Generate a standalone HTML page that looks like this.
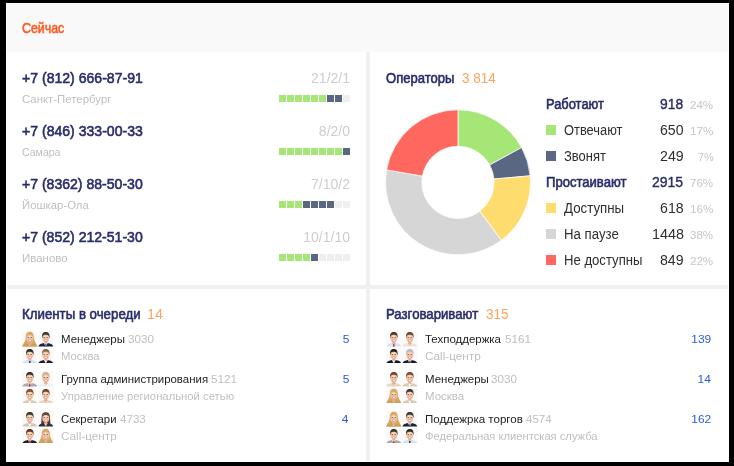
<!DOCTYPE html>
<html lang="ru">
<head>
<meta charset="utf-8">
<title>Сейчас</title>
<style>
*{box-sizing:border-box;margin:0;padding:0}
html,body{width:734px;height:466px;overflow:hidden;background:#000}
body{font-family:"Liberation Sans",sans-serif;position:relative}
#wrap{position:absolute;left:6px;top:3px;width:723px;height:459px;background:#f0f0f0;overflow:hidden}
.hdr{position:absolute;left:0;top:0;width:723px;height:49px;background:#f9f9f9}
#wrap:after{content:"";box-sizing:border-box;position:absolute;left:0;top:0;width:723px;height:459px;border:1px solid #fff;pointer-events:none}
.p{position:absolute;background:#fff}
#tl{left:0;top:49px;width:360px;height:233px}
#tr{left:364px;top:49px;width:359px;height:233px}
#bl{left:0;top:286px;width:360px;height:173px}
#br{left:364px;top:286px;width:359px;height:173px}
.t{position:absolute;white-space:nowrap;line-height:1;transform-origin:0 0}
.bar{position:absolute;height:7px;width:72px;display:flex}
.bar i{display:block;flex:none;width:7px;height:7px;margin-right:1px;background:#efefef}
.bar i.g{background:#a6e677}
.bar i.b{background:#5a6783}
.sq{position:absolute;width:10px;height:10px}
.donut{position:absolute;left:0;top:0}
.av{position:absolute}
.grp{position:absolute;left:0;top:0;width:723px;height:459px}
</style>
</head>
<body>
<div id="wrap">
<header class="hdr"></header>
<div class="p" id="tl"></div>
<div class="p" id="tr"></div>
<div class="p" id="bl"></div>
<div class="p" id="br"></div>
<header class="grp">
<span class="t" style="font-size:14.5px;color:#ff5b1f;-webkit-text-stroke:0.6px #ff5b1f;left:16px;top:18px;transform:scaleX(0.854)">Сейчас</span>
</header>
<section class="grp">
<span class="t" style="font-size:14.6px;color:#2a2d6b;-webkit-text-stroke:0.6px #2a2d6b;left:16px;top:68px;transform:scaleX(0.964)">+7 (812) 666-87-91</span>
<span class="t" style="font-size:11px;color:#bfbfbf;left:16px;top:91px;transform:scaleX(1.036)">Санкт-Петербург</span>
<span class="t" style="font-size:14px;color:#cdcdcd;right:379px;top:68px">21/2/1</span>
<span class="t" style="font-size:14.6px;color:#2a2d6b;-webkit-text-stroke:0.6px #2a2d6b;left:16px;top:121px;transform:scaleX(0.964)">+7 (846) 333-00-33</span>
<span class="t" style="font-size:11px;color:#bfbfbf;left:16px;top:144px;transform:scaleX(0.96)">Самара</span>
<span class="t" style="font-size:14px;color:#cdcdcd;right:379px;top:121px">8/2/0</span>
<span class="t" style="font-size:14.6px;color:#2a2d6b;-webkit-text-stroke:0.6px #2a2d6b;left:16px;top:174px;transform:scaleX(0.963)">+7 (8362) 88-50-30</span>
<span class="t" style="font-size:11px;color:#bfbfbf;left:16px;top:197px;transform:scaleX(1.031)">Йошкар-Ола</span>
<span class="t" style="font-size:14px;color:#cdcdcd;right:379px;top:174px">7/10/2</span>
<span class="t" style="font-size:14.6px;color:#2a2d6b;-webkit-text-stroke:0.6px #2a2d6b;left:16px;top:227px;transform:scaleX(0.963)">+7 (852) 212-51-30</span>
<span class="t" style="font-size:11px;color:#bfbfbf;left:16px;top:250px;transform:scaleX(1.044)">Иваново</span>
<span class="t" style="font-size:14px;color:#cdcdcd;right:379px;top:227px">10/1/10</span>
<div class="bar" style="left:273px;top:92px"><i class="g"></i><i class="g"></i><i class="g"></i><i class="g"></i><i class="g"></i><i class="g"></i><i class="b"></i><i class="b"></i><i></i></div>
<div class="bar" style="left:273px;top:145px"><i class="g"></i><i class="g"></i><i class="g"></i><i class="g"></i><i class="g"></i><i class="g"></i><i class="g"></i><i class="g"></i><i class="b"></i></div>
<div class="bar" style="left:273px;top:198px"><i class="g"></i><i class="g"></i><i class="g"></i><i class="b"></i><i class="b"></i><i class="b"></i><i class="b"></i><i></i><i></i></div>
<div class="bar" style="left:273px;top:251px"><i class="g"></i><i class="g"></i><i class="g"></i><i class="g"></i><i class="b"></i><i></i><i></i><i></i><i></i></div>
</section>
<section class="grp">
<svg class="donut" width="723" height="459" viewBox="6 3 723 459"><path d="M458.00 109.80A72.5 72.5 0 0 1 521.63 147.54L489.68 164.99A36.1 36.1 0 0 0 458.00 146.20Z" fill="#a6e677" stroke="#fff" stroke-width="0.75" stroke-linejoin="round"/><path d="M521.63 147.54A72.5 72.5 0 0 1 530.21 175.80L493.95 179.06A36.1 36.1 0 0 0 489.68 164.99Z" fill="#5a6783" stroke="#fff" stroke-width="0.75" stroke-linejoin="round"/><path d="M530.21 175.80A72.5 72.5 0 0 1 501.44 240.34L479.63 211.20A36.1 36.1 0 0 0 493.95 179.06Z" fill="#ffdc6e" stroke="#fff" stroke-width="0.75" stroke-linejoin="round"/><path d="M501.44 240.34A72.5 72.5 0 0 1 386.57 169.88L422.43 176.12A36.1 36.1 0 0 0 479.63 211.20Z" fill="#d6d6d6" stroke="#fff" stroke-width="0.75" stroke-linejoin="round"/><path d="M386.57 169.88A72.5 72.5 0 0 1 458.00 109.80L458.00 146.20A36.1 36.1 0 0 0 422.43 176.12Z" fill="#ff685e" stroke="#fff" stroke-width="0.75" stroke-linejoin="round"/></svg>
<div class="sq" style="left:540px;top:122px;background:#a6e677"></div><div class="sq" style="left:540px;top:148px;background:#5a6783"></div><div class="sq" style="left:540px;top:200px;background:#ffdc6e"></div><div class="sq" style="left:540px;top:226px;background:#d6d6d6"></div><div class="sq" style="left:540px;top:252px;background:#ff685e"></div>
<span class="t" style="font-size:14px;color:#2a2d6b;-webkit-text-stroke:0.6px #2a2d6b;left:380px;top:68px;transform:scaleX(0.931)">Операторы</span>
<span class="t" style="font-size:14px;color:#ffa25c;left:456.089px;top:68px;transform:scaleX(0.959)">3 814</span>
<span class="t" style="font-size:14px;color:#2a2d6b;-webkit-text-stroke:0.6px #2a2d6b;left:540px;top:94px;transform:scaleX(0.921)">Работают</span>
<span class="t" style="font-size:14.6px;color:#2a2d6b;-webkit-text-stroke:0.4px #2a2d6b;left:654.249px;top:94px;transform:scaleX(0.951)">918</span>
<span class="t" style="font-size:11.8px;color:#c6c6c6;left:684.22px;top:97px;transform:scaleX(0.978)">24%</span>
<span class="t" style="font-size:14px;color:#2e2e2e;left:558px;top:120px;transform:scaleX(0.919)">Отвечают</span>
<span class="t" style="font-size:14.6px;color:#2e2e2e;left:653.982px;top:120px;transform:scaleX(0.968)">650</span>
<span class="t" style="font-size:11.8px;color:#c6c6c6;left:683.909px;top:123px;transform:scaleX(0.991)">17%</span>
<span class="t" style="font-size:14px;color:#2e2e2e;left:558px;top:146px;transform:scaleX(0.927)">Звонят</span>
<span class="t" style="font-size:14.6px;color:#2e2e2e;left:653.986px;top:146px;transform:scaleX(0.973)">249</span>
<span class="t" style="font-size:11.8px;color:#c6c6c6;left:691.645px;top:149px;transform:scaleX(0.917)">7%</span>
<span class="t" style="font-size:14px;color:#2a2d6b;-webkit-text-stroke:0.6px #2a2d6b;left:540px;top:172px;transform:scaleX(0.933)">Простаивают</span>
<span class="t" style="font-size:14.6px;color:#2a2d6b;-webkit-text-stroke:0.4px #2a2d6b;left:646.297px;top:172px;transform:scaleX(0.958)">2915</span>
<span class="t" style="font-size:11.8px;color:#c6c6c6;left:684.208px;top:175px;transform:scaleX(0.979)">76%</span>
<span class="t" style="font-size:14px;color:#2e2e2e;left:558px;top:198px;transform:scaleX(0.949)">Доступны</span>
<span class="t" style="font-size:14.6px;color:#2e2e2e;left:653.98px;top:198px;transform:scaleX(0.971)">618</span>
<span class="t" style="font-size:11.8px;color:#c6c6c6;left:683.909px;top:201px;transform:scaleX(0.991)">16%</span>
<span class="t" style="font-size:14px;color:#2e2e2e;left:558px;top:224px;transform:scaleX(0.944)">На паузе</span>
<span class="t" style="font-size:14.6px;color:#2e2e2e;left:645.707px;top:224px;transform:scaleX(0.983)">1448</span>
<span class="t" style="font-size:11.8px;color:#c6c6c6;left:684.363px;top:227px;transform:scaleX(0.972)">38%</span>
<span class="t" style="font-size:14px;color:#2e2e2e;left:558px;top:250px;transform:scaleX(0.937)">Не доступны</span>
<span class="t" style="font-size:14.6px;color:#2e2e2e;left:654.085px;top:250px;transform:scaleX(0.969)">849</span>
<span class="t" style="font-size:11.8px;color:#c6c6c6;left:684.22px;top:253px;transform:scaleX(0.978)">22%</span>
</section>
<section class="grp">
<svg width="0" height="0" style="position:absolute"><defs><filter id="avb" x="-10%" y="-10%" width="120%" height="120%"><feGaussianBlur stdDeviation="0.35"/></filter></defs></svg>
<svg class="av" style="left:16.2px;top:328.1px" width="15.6" height="15.6" viewBox="0 0 15 15.4" preserveAspectRatio="none"><rect width="15" height="15.4" fill="#f9f9f9"/><g filter="url(#avb)"><path d="M3.6 6C3.6 2.2 5.2 0.7 7.5 0.7S11.4 2.2 11.4 6C11.4 9.8 13.6 12 14.8 15.4L0.2 15.4C1.4 12 3.6 9.8 3.6 6Z" fill="#d8a862"/><path d="M0.4 15.4C0.8 13 3.4 12.4 5.6 11.9L9.4 11.9C11.6 12.4 14.2 13 14.6 15.4Z" fill="#cf9f5a"/><path d="M5.6 11.9L9.4 11.9L7.5 15.4Z" fill="#e8b58f"/><rect x="6.1" y="9.8" width="2.8" height="2.8" fill="#e3ab8a"/><ellipse cx="7.5" cy="6.9" rx="3.35" ry="4.3" fill="#f0c3a3"/><ellipse cx="7.5" cy="5.6" rx="2" ry="1.2" fill="#fbe3d4" opacity=".7"/><path d="M4.2 5.6C4.8 3.2 6.4 2.6 7.7 2.6S10.4 3.4 10.8 5.6C9.8 4.6 8.8 4 7.3 4S5.2 4.6 4.2 5.6Z" fill="#d8a862"/><rect x="5.5" y="6" width="1.3" height="0.9" fill="#4a332b" opacity=".7"/><rect x="8.2" y="6" width="1.3" height="0.9" fill="#4a332b" opacity=".7"/><rect x="6" y="8.7" width="3" height="1.4" rx=".5" fill="#c9656a" opacity=".85"/><rect x="6.4" y="8.9" width="2.2" height="0.8" fill="#fff"/></g></svg>
<svg class="av" style="left:32.4px;top:328.1px" width="15.6" height="15.6" viewBox="0 0 15 15.4" preserveAspectRatio="none"><rect width="15" height="15.4" fill="#f9f9f9"/><g filter="url(#avb)"><path d="M0.4 15.4C0.8 13 3.4 12.4 5.6 11.9L9.4 11.9C11.6 12.4 14.2 13 14.6 15.4Z" fill="#1d2238"/><path d="M5.6 11.9L9.4 11.9L7.5 15.4Z" fill="#ffffff"/><path d="M6.9 12.8L8.1 12.8L8.4 15.4L6.6 15.4Z" fill="#3a62b8"/><rect x="6.1" y="9.8" width="2.8" height="2.8" fill="#e3ab8a"/><path d="M3.9 6.6C3.5 2.6 5.2 1 7.5 1S11.5 2.6 11.1 6.6Z" fill="#3a3230"/><ellipse cx="7.5" cy="6.9" rx="3.35" ry="4.3" fill="#f0c3a3"/><ellipse cx="7.5" cy="5.6" rx="2" ry="1.2" fill="#fbe3d4" opacity=".7"/><path d="M4.3 5.2C4.6 3 6 2.2 7.5 2.2S10.4 3 10.7 5.2C9.8 4 8.8 3.6 7.5 3.6S5.2 4 4.3 5.2Z" fill="#3a3230"/><rect x="5.5" y="6" width="1.3" height="0.9" fill="#4a332b" opacity=".7"/><rect x="8.2" y="6" width="1.3" height="0.9" fill="#4a332b" opacity=".7"/><rect x="6" y="8.7" width="3" height="1.4" rx=".5" fill="#c9656a" opacity=".85"/><rect x="6.4" y="8.9" width="2.2" height="0.8" fill="#fff"/></g></svg>
<svg class="av" style="left:16.2px;top:344.5px" width="15.6" height="15.6" viewBox="0 0 15 15.4" preserveAspectRatio="none"><rect width="15" height="15.4" fill="#f9f9f9"/><g filter="url(#avb)"><path d="M0.4 15.4C0.8 13 3.4 12.4 5.6 11.9L9.4 11.9C11.6 12.4 14.2 13 14.6 15.4Z" fill="#cfe2f6"/><path d="M5.6 11.9L9.4 11.9L7.5 15.4Z" fill="#cfe2f6"/><path d="M6.9 12.8L8.1 12.8L8.4 15.4L6.6 15.4Z" fill="#2b3d6b"/><rect x="6.1" y="9.8" width="2.8" height="2.8" fill="#e3ab8a"/><path d="M3.9 6.6C3.5 2.6 5.2 1 7.5 1S11.5 2.6 11.1 6.6Z" fill="#2c2624"/><ellipse cx="7.5" cy="6.9" rx="3.35" ry="4.3" fill="#f0c3a3"/><ellipse cx="7.5" cy="5.6" rx="2" ry="1.2" fill="#fbe3d4" opacity=".7"/><path d="M4.3 5.2C4.6 3 6 2.2 7.5 2.2S10.4 3 10.7 5.2C9.8 4 8.8 3.6 7.5 3.6S5.2 4 4.3 5.2Z" fill="#2c2624"/><rect x="5.5" y="6" width="1.3" height="0.9" fill="#4a332b" opacity=".7"/><rect x="8.2" y="6" width="1.3" height="0.9" fill="#4a332b" opacity=".7"/><rect x="6" y="8.7" width="3" height="1.4" rx=".5" fill="#c9656a" opacity=".85"/><rect x="6.4" y="8.9" width="2.2" height="0.8" fill="#fff"/></g></svg>
<svg class="av" style="left:32.4px;top:344.5px" width="15.6" height="15.6" viewBox="0 0 15 15.4" preserveAspectRatio="none"><rect width="15" height="15.4" fill="#f9f9f9"/><g filter="url(#avb)"><path d="M0.4 15.4C0.8 13 3.4 12.4 5.6 11.9L9.4 11.9C11.6 12.4 14.2 13 14.6 15.4Z" fill="#1b1e2c"/><path d="M5.6 11.9L9.4 11.9L7.5 15.4Z" fill="#ffffff"/><rect x="6.1" y="9.8" width="2.8" height="2.8" fill="#e3ab8a"/><path d="M3.9 6.6C3.5 2.6 5.2 1 7.5 1S11.5 2.6 11.1 6.6Z" fill="#8a6a45"/><ellipse cx="7.5" cy="6.9" rx="3.35" ry="4.3" fill="#f0c3a3"/><ellipse cx="7.5" cy="5.6" rx="2" ry="1.2" fill="#fbe3d4" opacity=".7"/><path d="M4.3 5.2C4.6 3 6 2.2 7.5 2.2S10.4 3 10.7 5.2C9.8 4 8.8 3.6 7.5 3.6S5.2 4 4.3 5.2Z" fill="#8a6a45"/><rect x="5.5" y="6" width="1.3" height="0.9" fill="#4a332b" opacity=".7"/><rect x="8.2" y="6" width="1.3" height="0.9" fill="#4a332b" opacity=".7"/><rect x="6" y="8.7" width="3" height="1.4" rx=".5" fill="#c9656a" opacity=".85"/><rect x="6.4" y="8.9" width="2.2" height="0.8" fill="#fff"/></g></svg>
<svg class="av" style="left:16.2px;top:368.1px" width="15.6" height="15.6" viewBox="0 0 15 15.4" preserveAspectRatio="none"><rect width="15" height="15.4" fill="#f9f9f9"/><g filter="url(#avb)"><path d="M0.4 15.4C0.8 13 3.4 12.4 5.6 11.9L9.4 11.9C11.6 12.4 14.2 13 14.6 15.4Z" fill="#a9a9ab"/><path d="M5.6 11.9L9.4 11.9L7.5 15.4Z" fill="#ffffff"/><path d="M6.9 12.8L8.1 12.8L8.4 15.4L6.6 15.4Z" fill="#b23a48"/><rect x="6.1" y="9.8" width="2.8" height="2.8" fill="#e3ab8a"/><path d="M3.9 6.6C3.5 2.6 5.2 1 7.5 1S11.5 2.6 11.1 6.6Z" fill="#37302e"/><ellipse cx="7.5" cy="6.9" rx="3.35" ry="4.3" fill="#f0c3a3"/><ellipse cx="7.5" cy="5.6" rx="2" ry="1.2" fill="#fbe3d4" opacity=".7"/><path d="M4.3 5.2C4.6 3 6 2.2 7.5 2.2S10.4 3 10.7 5.2C9.8 4 8.8 3.6 7.5 3.6S5.2 4 4.3 5.2Z" fill="#37302e"/><rect x="5.5" y="6" width="1.3" height="0.9" fill="#4a332b" opacity=".7"/><rect x="8.2" y="6" width="1.3" height="0.9" fill="#4a332b" opacity=".7"/><rect x="6" y="8.7" width="3" height="1.4" rx=".5" fill="#c9656a" opacity=".85"/><rect x="6.4" y="8.9" width="2.2" height="0.8" fill="#fff"/></g></svg>
<svg class="av" style="left:32.4px;top:368.1px" width="15.6" height="15.6" viewBox="0 0 15 15.4" preserveAspectRatio="none"><rect width="15" height="15.4" fill="#f9f9f9"/><g filter="url(#avb)"><path d="M0.4 15.4C0.8 13 3.4 12.4 5.6 11.9L9.4 11.9C11.6 12.4 14.2 13 14.6 15.4Z" fill="#eef1f6"/><path d="M5.6 11.9L9.4 11.9L7.5 15.4Z" fill="#f3d3bd"/><rect x="6.1" y="9.8" width="2.8" height="2.8" fill="#e3ab8a"/><path d="M3.9 6.6C3.5 2.6 5.2 1 7.5 1S11.5 2.6 11.1 6.6Z" fill="#c9b48c"/><ellipse cx="7.5" cy="6.9" rx="3.35" ry="4.3" fill="#f0c3a3"/><ellipse cx="7.5" cy="5.6" rx="2" ry="1.2" fill="#fbe3d4" opacity=".7"/><path d="M4.3 5.2C4.6 3 6 2.2 7.5 2.2S10.4 3 10.7 5.2C9.8 4 8.8 3.6 7.5 3.6S5.2 4 4.3 5.2Z" fill="#c9b48c"/><rect x="5.5" y="6" width="1.3" height="0.9" fill="#4a332b" opacity=".7"/><rect x="8.2" y="6" width="1.3" height="0.9" fill="#4a332b" opacity=".7"/><rect x="6" y="8.7" width="3" height="1.4" rx=".5" fill="#c9656a" opacity=".85"/><rect x="6.4" y="8.9" width="2.2" height="0.8" fill="#fff"/></g></svg>
<svg class="av" style="left:16.2px;top:384.5px" width="15.6" height="15.6" viewBox="0 0 15 15.4" preserveAspectRatio="none"><rect width="15" height="15.4" fill="#f9f9f9"/><g filter="url(#avb)"><path d="M0.4 15.4C0.8 13 3.4 12.4 5.6 11.9L9.4 11.9C11.6 12.4 14.2 13 14.6 15.4Z" fill="#d9cdb8"/><path d="M5.6 11.9L9.4 11.9L7.5 15.4Z" fill="#ffffff"/><rect x="6.1" y="9.8" width="2.8" height="2.8" fill="#e3ab8a"/><path d="M3.9 6.6C3.5 2.6 5.2 1 7.5 1S11.5 2.6 11.1 6.6Z" fill="#7a4a2c"/><ellipse cx="7.5" cy="6.9" rx="3.35" ry="4.3" fill="#f0c3a3"/><ellipse cx="7.5" cy="5.6" rx="2" ry="1.2" fill="#fbe3d4" opacity=".7"/><path d="M4.3 5.2C4.6 3 6 2.2 7.5 2.2S10.4 3 10.7 5.2C9.8 4 8.8 3.6 7.5 3.6S5.2 4 4.3 5.2Z" fill="#7a4a2c"/><rect x="5.5" y="6" width="1.3" height="0.9" fill="#4a332b" opacity=".7"/><rect x="8.2" y="6" width="1.3" height="0.9" fill="#4a332b" opacity=".7"/><rect x="6" y="8.7" width="3" height="1.4" rx=".5" fill="#c9656a" opacity=".85"/><rect x="6.4" y="8.9" width="2.2" height="0.8" fill="#fff"/></g></svg>
<svg class="av" style="left:32.4px;top:384.5px" width="15.6" height="15.6" viewBox="0 0 15 15.4" preserveAspectRatio="none"><rect width="15" height="15.4" fill="#f9f9f9"/><g filter="url(#avb)"><path d="M0.4 15.4C0.8 13 3.4 12.4 5.6 11.9L9.4 11.9C11.6 12.4 14.2 13 14.6 15.4Z" fill="#e8d6c2"/><path d="M5.6 11.9L9.4 11.9L7.5 15.4Z" fill="#f0c3a3"/><rect x="6.1" y="9.8" width="2.8" height="2.8" fill="#e3ab8a"/><path d="M3.9 6.6C3.5 2.6 5.2 1 7.5 1S11.5 2.6 11.1 6.6Z" fill="#6b4128"/><ellipse cx="7.5" cy="6.9" rx="3.35" ry="4.3" fill="#f0c3a3"/><ellipse cx="7.5" cy="5.6" rx="2" ry="1.2" fill="#fbe3d4" opacity=".7"/><path d="M4.3 5.2C4.6 3 6 2.2 7.5 2.2S10.4 3 10.7 5.2C9.8 4 8.8 3.6 7.5 3.6S5.2 4 4.3 5.2Z" fill="#6b4128"/><rect x="5.5" y="6" width="1.3" height="0.9" fill="#4a332b" opacity=".7"/><rect x="8.2" y="6" width="1.3" height="0.9" fill="#4a332b" opacity=".7"/><rect x="6" y="8.7" width="3" height="1.4" rx=".5" fill="#c9656a" opacity=".85"/><rect x="6.4" y="8.9" width="2.2" height="0.8" fill="#fff"/></g></svg>
<svg class="av" style="left:16.2px;top:408.1px" width="15.6" height="15.6" viewBox="0 0 15 15.4" preserveAspectRatio="none"><rect width="15" height="15.4" fill="#f9f9f9"/><g filter="url(#avb)"><path d="M0.4 15.4C0.8 13 3.4 12.4 5.6 11.9L9.4 11.9C11.6 12.4 14.2 13 14.6 15.4Z" fill="#d4c7b9"/><path d="M5.6 11.9L9.4 11.9L7.5 15.4Z" fill="#ffffff"/><rect x="6.1" y="9.8" width="2.8" height="2.8" fill="#e3ab8a"/><path d="M3.9 6.6C3.5 2.6 5.2 1 7.5 1S11.5 2.6 11.1 6.6Z" fill="#3c322d"/><ellipse cx="7.5" cy="6.9" rx="3.35" ry="4.3" fill="#f0c3a3"/><ellipse cx="7.5" cy="5.6" rx="2" ry="1.2" fill="#fbe3d4" opacity=".7"/><path d="M4.3 5.2C4.6 3 6 2.2 7.5 2.2S10.4 3 10.7 5.2C9.8 4 8.8 3.6 7.5 3.6S5.2 4 4.3 5.2Z" fill="#3c322d"/><rect x="5.5" y="6" width="1.3" height="0.9" fill="#4a332b" opacity=".7"/><rect x="8.2" y="6" width="1.3" height="0.9" fill="#4a332b" opacity=".7"/><rect x="6" y="8.7" width="3" height="1.4" rx=".5" fill="#c9656a" opacity=".85"/><rect x="6.4" y="8.9" width="2.2" height="0.8" fill="#fff"/></g></svg>
<svg class="av" style="left:32.4px;top:408.1px" width="15.6" height="15.6" viewBox="0 0 15 15.4" preserveAspectRatio="none"><rect width="15" height="15.4" fill="#f9f9f9"/><g filter="url(#avb)"><path d="M3.5 6.2C3.5 2.4 5.2 1.2 7.5 1.2S11.5 2.4 11.5 6.2L12 13.6L3 13.6Z" fill="#5a3a2c"/><path d="M0.4 15.4C0.8 13 3.4 12.4 5.6 11.9L9.4 11.9C11.6 12.4 14.2 13 14.6 15.4Z" fill="#2a3046"/><path d="M5.6 11.9L9.4 11.9L7.5 15.4Z" fill="#f0c3a3"/><rect x="6.1" y="9.8" width="2.8" height="2.8" fill="#e3ab8a"/><ellipse cx="7.5" cy="6.9" rx="3.35" ry="4.3" fill="#f0c3a3"/><ellipse cx="7.5" cy="5.6" rx="2" ry="1.2" fill="#fbe3d4" opacity=".7"/><path d="M4.2 5.6C4.8 3.2 6.4 2.6 7.7 2.6S10.4 3.4 10.8 5.6C9.8 4.6 8.8 4 7.3 4S5.2 4.6 4.2 5.6Z" fill="#5a3a2c"/><rect x="5.5" y="6" width="1.3" height="0.9" fill="#4a332b" opacity=".7"/><rect x="8.2" y="6" width="1.3" height="0.9" fill="#4a332b" opacity=".7"/><rect x="6" y="8.7" width="3" height="1.4" rx=".5" fill="#c9656a" opacity=".85"/><rect x="6.4" y="8.9" width="2.2" height="0.8" fill="#fff"/></g></svg>
<svg class="av" style="left:16.2px;top:424.5px" width="15.6" height="15.6" viewBox="0 0 15 15.4" preserveAspectRatio="none"><rect width="15" height="15.4" fill="#f9f9f9"/><g filter="url(#avb)"><path d="M0.4 15.4C0.8 13 3.4 12.4 5.6 11.9L9.4 11.9C11.6 12.4 14.2 13 14.6 15.4Z" fill="#1f2230"/><path d="M5.6 11.9L9.4 11.9L7.5 15.4Z" fill="#8db4e6"/><path d="M6.9 12.8L8.1 12.8L8.4 15.4L6.6 15.4Z" fill="#c23a3a"/><rect x="6.1" y="9.8" width="2.8" height="2.8" fill="#e3ab8a"/><path d="M3.9 6.6C3.5 2.6 5.2 1 7.5 1S11.5 2.6 11.1 6.6Z" fill="#5a3520"/><ellipse cx="7.5" cy="6.9" rx="3.35" ry="4.3" fill="#f0c3a3"/><ellipse cx="7.5" cy="5.6" rx="2" ry="1.2" fill="#fbe3d4" opacity=".7"/><path d="M4.3 5.2C4.6 3 6 2.2 7.5 2.2S10.4 3 10.7 5.2C9.8 4 8.8 3.6 7.5 3.6S5.2 4 4.3 5.2Z" fill="#5a3520"/><rect x="5.5" y="6" width="1.3" height="0.9" fill="#4a332b" opacity=".7"/><rect x="8.2" y="6" width="1.3" height="0.9" fill="#4a332b" opacity=".7"/><rect x="6" y="8.7" width="3" height="1.4" rx=".5" fill="#c9656a" opacity=".85"/><rect x="6.4" y="8.9" width="2.2" height="0.8" fill="#fff"/></g></svg>
<svg class="av" style="left:32.4px;top:424.5px" width="15.6" height="15.6" viewBox="0 0 15 15.4" preserveAspectRatio="none"><rect width="15" height="15.4" fill="#f9f9f9"/><g filter="url(#avb)"><path d="M3.6 6C3.6 2.2 5.2 0.7 7.5 0.7S11.4 2.2 11.4 6C11.4 9.8 13.6 12 14.8 15.4L0.2 15.4C1.4 12 3.6 9.8 3.6 6Z" fill="#d8a862"/><path d="M0.4 15.4C0.8 13 3.4 12.4 5.6 11.9L9.4 11.9C11.6 12.4 14.2 13 14.6 15.4Z" fill="#cf9f5a"/><path d="M5.6 11.9L9.4 11.9L7.5 15.4Z" fill="#e8b58f"/><rect x="6.1" y="9.8" width="2.8" height="2.8" fill="#e3ab8a"/><ellipse cx="7.5" cy="6.9" rx="3.35" ry="4.3" fill="#f0c3a3"/><ellipse cx="7.5" cy="5.6" rx="2" ry="1.2" fill="#fbe3d4" opacity=".7"/><path d="M4.2 5.6C4.8 3.2 6.4 2.6 7.7 2.6S10.4 3.4 10.8 5.6C9.8 4.6 8.8 4 7.3 4S5.2 4.6 4.2 5.6Z" fill="#d8a862"/><rect x="5.5" y="6" width="1.3" height="0.9" fill="#4a332b" opacity=".7"/><rect x="8.2" y="6" width="1.3" height="0.9" fill="#4a332b" opacity=".7"/><rect x="6" y="8.7" width="3" height="1.4" rx=".5" fill="#c9656a" opacity=".85"/><rect x="6.4" y="8.9" width="2.2" height="0.8" fill="#fff"/></g></svg>
<span class="t" style="font-size:14.5px;color:#2a2d6b;-webkit-text-stroke:0.6px #2a2d6b;left:16px;top:304px;transform:scaleX(0.915)">Клиенты в очереди</span>
<span class="t" style="font-size:14px;color:#ffa25c;left:141.411px;top:304px;transform:scaleX(1.022)">14</span>
<span class="t" style="font-size:11px;color:#222;left:54.658px;top:331px;transform:scaleX(1.043)">Менеджеры</span>
<span class="t" style="font-size:11px;color:#bfbfbf;left:121.557px;top:331px;transform:scaleX(1.058)">3030</span>
<span class="t" style="font-size:11px;color:#bfbfbf;left:54.674px;top:348px;transform:scaleX(1.026)">Москва</span>
<span class="t" style="font-size:11.5px;color:#2b5bd3;right:380.098px;top:331px;transform-origin:100% 0;transform:scaleX(1.04)">5</span>
<span class="t" style="font-size:11px;color:#222;left:54.662px;top:371px;transform:scaleX(1.04)">Группа администрирования</span>
<span class="t" style="font-size:11px;color:#bfbfbf;left:204.631px;top:371px;transform:scaleX(1.064)">5121</span>
<span class="t" style="font-size:11px;color:#bfbfbf;left:55.297px;top:388px;transform:scaleX(1.026)">Управление региональной сетью</span>
<span class="t" style="font-size:11.5px;color:#2b5bd3;right:380.098px;top:371px;transform-origin:100% 0;transform:scaleX(1.04)">5</span>
<span class="t" style="font-size:11px;color:#222;left:55.027px;top:411px;transform:scaleX(1.026)">Секретари</span>
<span class="t" style="font-size:11px;color:#bfbfbf;left:113.634px;top:411px;transform:scaleX(1.053)">4733</span>
<span class="t" style="font-size:11px;color:#bfbfbf;left:55.003px;top:428px;transform:scaleX(1.068)">Call-центр</span>
<span class="t" style="font-size:11.5px;color:#2b5bd3;right:380.25px;top:411px;transform-origin:100% 0;transform:scaleX(1.04)">4</span>
</section>
<section class="grp">
<svg class="av" style="left:380.2px;top:328.1px" width="15.6" height="15.6" viewBox="0 0 15 15.4" preserveAspectRatio="none"><rect width="15" height="15.4" fill="#f9f9f9"/><g filter="url(#avb)"><path d="M0.4 15.4C0.8 13 3.4 12.4 5.6 11.9L9.4 11.9C11.6 12.4 14.2 13 14.6 15.4Z" fill="#d5e4f5"/><path d="M5.6 11.9L9.4 11.9L7.5 15.4Z" fill="#d5e4f5"/><path d="M6.9 12.8L8.1 12.8L8.4 15.4L6.6 15.4Z" fill="#b33a3a"/><rect x="6.1" y="9.8" width="2.8" height="2.8" fill="#e3ab8a"/><path d="M3.9 6.6C3.5 2.6 5.2 1 7.5 1S11.5 2.6 11.1 6.6Z" fill="#4a2f22"/><ellipse cx="7.5" cy="6.9" rx="3.35" ry="4.3" fill="#f0c3a3"/><ellipse cx="7.5" cy="5.6" rx="2" ry="1.2" fill="#fbe3d4" opacity=".7"/><path d="M4.3 5.2C4.6 3 6 2.2 7.5 2.2S10.4 3 10.7 5.2C9.8 4 8.8 3.6 7.5 3.6S5.2 4 4.3 5.2Z" fill="#4a2f22"/><rect x="5.5" y="6" width="1.3" height="0.9" fill="#4a332b" opacity=".7"/><rect x="8.2" y="6" width="1.3" height="0.9" fill="#4a332b" opacity=".7"/><rect x="6" y="8.7" width="3" height="1.4" rx=".5" fill="#c9656a" opacity=".85"/><rect x="6.4" y="8.9" width="2.2" height="0.8" fill="#fff"/></g></svg>
<svg class="av" style="left:396.4px;top:328.1px" width="15.6" height="15.6" viewBox="0 0 15 15.4" preserveAspectRatio="none"><rect width="15" height="15.4" fill="#f9f9f9"/><g filter="url(#avb)"><path d="M0.4 15.4C0.8 13 3.4 12.4 5.6 11.9L9.4 11.9C11.6 12.4 14.2 13 14.6 15.4Z" fill="#efe3d6"/><path d="M5.6 11.9L9.4 11.9L7.5 15.4Z" fill="#f0c3a3"/><rect x="6.1" y="9.8" width="2.8" height="2.8" fill="#e3ab8a"/><path d="M3.9 6.6C3.5 2.6 5.2 1 7.5 1S11.5 2.6 11.1 6.6Z" fill="#6a4630"/><ellipse cx="7.5" cy="6.9" rx="3.35" ry="4.3" fill="#f0c3a3"/><ellipse cx="7.5" cy="5.6" rx="2" ry="1.2" fill="#fbe3d4" opacity=".7"/><path d="M4.3 5.2C4.6 3 6 2.2 7.5 2.2S10.4 3 10.7 5.2C9.8 4 8.8 3.6 7.5 3.6S5.2 4 4.3 5.2Z" fill="#6a4630"/><rect x="5.5" y="6" width="1.3" height="0.9" fill="#4a332b" opacity=".7"/><rect x="8.2" y="6" width="1.3" height="0.9" fill="#4a332b" opacity=".7"/><rect x="6" y="8.7" width="3" height="1.4" rx=".5" fill="#c9656a" opacity=".85"/><rect x="6.4" y="8.9" width="2.2" height="0.8" fill="#fff"/></g></svg>
<svg class="av" style="left:380.2px;top:344.5px" width="15.6" height="15.6" viewBox="0 0 15 15.4" preserveAspectRatio="none"><rect width="15" height="15.4" fill="#f9f9f9"/><g filter="url(#avb)"><path d="M0.4 15.4C0.8 13 3.4 12.4 5.6 11.9L9.4 11.9C11.6 12.4 14.2 13 14.6 15.4Z" fill="#15182a"/><path d="M5.6 11.9L9.4 11.9L7.5 15.4Z" fill="#ffffff"/><rect x="6.1" y="9.8" width="2.8" height="2.8" fill="#e3ab8a"/><path d="M3.9 6.6C3.5 2.6 5.2 1 7.5 1S11.5 2.6 11.1 6.6Z" fill="#1f1b1b"/><ellipse cx="7.5" cy="6.9" rx="3.35" ry="4.3" fill="#f0c3a3"/><ellipse cx="7.5" cy="5.6" rx="2" ry="1.2" fill="#fbe3d4" opacity=".7"/><path d="M4.3 5.2C4.6 3 6 2.2 7.5 2.2S10.4 3 10.7 5.2C9.8 4 8.8 3.6 7.5 3.6S5.2 4 4.3 5.2Z" fill="#1f1b1b"/><rect x="5.5" y="6" width="1.3" height="0.9" fill="#4a332b" opacity=".7"/><rect x="8.2" y="6" width="1.3" height="0.9" fill="#4a332b" opacity=".7"/><rect x="6" y="8.7" width="3" height="1.4" rx=".5" fill="#c9656a" opacity=".85"/><rect x="6.4" y="8.9" width="2.2" height="0.8" fill="#fff"/></g></svg>
<svg class="av" style="left:396.4px;top:344.5px" width="15.6" height="15.6" viewBox="0 0 15 15.4" preserveAspectRatio="none"><rect width="15" height="15.4" fill="#f9f9f9"/><g filter="url(#avb)"><path d="M0.4 15.4C0.8 13 3.4 12.4 5.6 11.9L9.4 11.9C11.6 12.4 14.2 13 14.6 15.4Z" fill="#1b1d2b"/><path d="M5.6 11.9L9.4 11.9L7.5 15.4Z" fill="#ffffff"/><path d="M6.9 12.8L8.1 12.8L8.4 15.4L6.6 15.4Z" fill="#2f4fb0"/><rect x="6.1" y="9.8" width="2.8" height="2.8" fill="#e3ab8a"/><path d="M3.9 6.6C3.5 2.6 5.2 1 7.5 1S11.5 2.6 11.1 6.6Z" fill="#b9bcc4"/><ellipse cx="7.5" cy="6.9" rx="3.35" ry="4.3" fill="#f0c3a3"/><ellipse cx="7.5" cy="5.6" rx="2" ry="1.2" fill="#fbe3d4" opacity=".7"/><path d="M4.3 5.2C4.6 3 6 2.2 7.5 2.2S10.4 3 10.7 5.2C9.8 4 8.8 3.6 7.5 3.6S5.2 4 4.3 5.2Z" fill="#b9bcc4"/><rect x="5.5" y="6" width="1.3" height="0.9" fill="#4a332b" opacity=".7"/><rect x="8.2" y="6" width="1.3" height="0.9" fill="#4a332b" opacity=".7"/><rect x="6" y="8.7" width="3" height="1.4" rx=".5" fill="#c9656a" opacity=".85"/><rect x="6.4" y="8.9" width="2.2" height="0.8" fill="#fff"/></g></svg>
<svg class="av" style="left:380.2px;top:368.1px" width="15.6" height="15.6" viewBox="0 0 15 15.4" preserveAspectRatio="none"><rect width="15" height="15.4" fill="#f9f9f9"/><g filter="url(#avb)"><path d="M0.4 15.4C0.8 13 3.4 12.4 5.6 11.9L9.4 11.9C11.6 12.4 14.2 13 14.6 15.4Z" fill="#e8d6c2"/><path d="M5.6 11.9L9.4 11.9L7.5 15.4Z" fill="#f0c3a3"/><rect x="6.1" y="9.8" width="2.8" height="2.8" fill="#e3ab8a"/><path d="M3.9 6.6C3.5 2.6 5.2 1 7.5 1S11.5 2.6 11.1 6.6Z" fill="#6b4128"/><ellipse cx="7.5" cy="6.9" rx="3.35" ry="4.3" fill="#f0c3a3"/><ellipse cx="7.5" cy="5.6" rx="2" ry="1.2" fill="#fbe3d4" opacity=".7"/><path d="M4.3 5.2C4.6 3 6 2.2 7.5 2.2S10.4 3 10.7 5.2C9.8 4 8.8 3.6 7.5 3.6S5.2 4 4.3 5.2Z" fill="#6b4128"/><rect x="5.5" y="6" width="1.3" height="0.9" fill="#4a332b" opacity=".7"/><rect x="8.2" y="6" width="1.3" height="0.9" fill="#4a332b" opacity=".7"/><rect x="6" y="8.7" width="3" height="1.4" rx=".5" fill="#c9656a" opacity=".85"/><rect x="6.4" y="8.9" width="2.2" height="0.8" fill="#fff"/></g></svg>
<svg class="av" style="left:396.4px;top:368.1px" width="15.6" height="15.6" viewBox="0 0 15 15.4" preserveAspectRatio="none"><rect width="15" height="15.4" fill="#f9f9f9"/><g filter="url(#avb)"><path d="M0.4 15.4C0.8 13 3.4 12.4 5.6 11.9L9.4 11.9C11.6 12.4 14.2 13 14.6 15.4Z" fill="#d9cdb8"/><path d="M5.6 11.9L9.4 11.9L7.5 15.4Z" fill="#ffffff"/><rect x="6.1" y="9.8" width="2.8" height="2.8" fill="#e3ab8a"/><path d="M3.9 6.6C3.5 2.6 5.2 1 7.5 1S11.5 2.6 11.1 6.6Z" fill="#7a4a2c"/><ellipse cx="7.5" cy="6.9" rx="3.35" ry="4.3" fill="#f0c3a3"/><ellipse cx="7.5" cy="5.6" rx="2" ry="1.2" fill="#fbe3d4" opacity=".7"/><path d="M4.3 5.2C4.6 3 6 2.2 7.5 2.2S10.4 3 10.7 5.2C9.8 4 8.8 3.6 7.5 3.6S5.2 4 4.3 5.2Z" fill="#7a4a2c"/><rect x="5.5" y="6" width="1.3" height="0.9" fill="#4a332b" opacity=".7"/><rect x="8.2" y="6" width="1.3" height="0.9" fill="#4a332b" opacity=".7"/><rect x="6" y="8.7" width="3" height="1.4" rx=".5" fill="#c9656a" opacity=".85"/><rect x="6.4" y="8.9" width="2.2" height="0.8" fill="#fff"/></g></svg>
<svg class="av" style="left:380.2px;top:384.5px" width="15.6" height="15.6" viewBox="0 0 15 15.4" preserveAspectRatio="none"><rect width="15" height="15.4" fill="#f9f9f9"/><g filter="url(#avb)"><path d="M3.6 6C3.6 2.2 5.2 0.7 7.5 0.7S11.4 2.2 11.4 6C11.4 9.8 13.6 12 14.8 15.4L0.2 15.4C1.4 12 3.6 9.8 3.6 6Z" fill="#d8a862"/><path d="M0.4 15.4C0.8 13 3.4 12.4 5.6 11.9L9.4 11.9C11.6 12.4 14.2 13 14.6 15.4Z" fill="#cf9f5a"/><path d="M5.6 11.9L9.4 11.9L7.5 15.4Z" fill="#e8b58f"/><rect x="6.1" y="9.8" width="2.8" height="2.8" fill="#e3ab8a"/><ellipse cx="7.5" cy="6.9" rx="3.35" ry="4.3" fill="#f0c3a3"/><ellipse cx="7.5" cy="5.6" rx="2" ry="1.2" fill="#fbe3d4" opacity=".7"/><path d="M4.2 5.6C4.8 3.2 6.4 2.6 7.7 2.6S10.4 3.4 10.8 5.6C9.8 4.6 8.8 4 7.3 4S5.2 4.6 4.2 5.6Z" fill="#d8a862"/><rect x="5.5" y="6" width="1.3" height="0.9" fill="#4a332b" opacity=".7"/><rect x="8.2" y="6" width="1.3" height="0.9" fill="#4a332b" opacity=".7"/><rect x="6" y="8.7" width="3" height="1.4" rx=".5" fill="#c9656a" opacity=".85"/><rect x="6.4" y="8.9" width="2.2" height="0.8" fill="#fff"/></g></svg>
<svg class="av" style="left:396.4px;top:384.5px" width="15.6" height="15.6" viewBox="0 0 15 15.4" preserveAspectRatio="none"><rect width="15" height="15.4" fill="#f9f9f9"/><g filter="url(#avb)"><path d="M0.4 15.4C0.8 13 3.4 12.4 5.6 11.9L9.4 11.9C11.6 12.4 14.2 13 14.6 15.4Z" fill="#d4c7b9"/><path d="M5.6 11.9L9.4 11.9L7.5 15.4Z" fill="#ffffff"/><rect x="6.1" y="9.8" width="2.8" height="2.8" fill="#e3ab8a"/><path d="M3.9 6.6C3.5 2.6 5.2 1 7.5 1S11.5 2.6 11.1 6.6Z" fill="#3c322d"/><ellipse cx="7.5" cy="6.9" rx="3.35" ry="4.3" fill="#f0c3a3"/><ellipse cx="7.5" cy="5.6" rx="2" ry="1.2" fill="#fbe3d4" opacity=".7"/><path d="M4.3 5.2C4.6 3 6 2.2 7.5 2.2S10.4 3 10.7 5.2C9.8 4 8.8 3.6 7.5 3.6S5.2 4 4.3 5.2Z" fill="#3c322d"/><rect x="5.5" y="6" width="1.3" height="0.9" fill="#4a332b" opacity=".7"/><rect x="8.2" y="6" width="1.3" height="0.9" fill="#4a332b" opacity=".7"/><rect x="6" y="8.7" width="3" height="1.4" rx=".5" fill="#c9656a" opacity=".85"/><rect x="6.4" y="8.9" width="2.2" height="0.8" fill="#fff"/></g></svg>
<svg class="av" style="left:380.2px;top:408.1px" width="15.6" height="15.6" viewBox="0 0 15 15.4" preserveAspectRatio="none"><rect width="15" height="15.4" fill="#f9f9f9"/><g filter="url(#avb)"><path d="M3.6 6C3.6 2.2 5.2 0.7 7.5 0.7S11.4 2.2 11.4 6C11.4 9.8 13.6 12 14.8 15.4L0.2 15.4C1.4 12 3.6 9.8 3.6 6Z" fill="#d8a862"/><path d="M0.4 15.4C0.8 13 3.4 12.4 5.6 11.9L9.4 11.9C11.6 12.4 14.2 13 14.6 15.4Z" fill="#cf9f5a"/><path d="M5.6 11.9L9.4 11.9L7.5 15.4Z" fill="#e8b58f"/><rect x="6.1" y="9.8" width="2.8" height="2.8" fill="#e3ab8a"/><ellipse cx="7.5" cy="6.9" rx="3.35" ry="4.3" fill="#f0c3a3"/><ellipse cx="7.5" cy="5.6" rx="2" ry="1.2" fill="#fbe3d4" opacity=".7"/><path d="M4.2 5.6C4.8 3.2 6.4 2.6 7.7 2.6S10.4 3.4 10.8 5.6C9.8 4.6 8.8 4 7.3 4S5.2 4.6 4.2 5.6Z" fill="#d8a862"/><rect x="5.5" y="6" width="1.3" height="0.9" fill="#4a332b" opacity=".7"/><rect x="8.2" y="6" width="1.3" height="0.9" fill="#4a332b" opacity=".7"/><rect x="6" y="8.7" width="3" height="1.4" rx=".5" fill="#c9656a" opacity=".85"/><rect x="6.4" y="8.9" width="2.2" height="0.8" fill="#fff"/></g></svg>
<svg class="av" style="left:396.4px;top:408.1px" width="15.6" height="15.6" viewBox="0 0 15 15.4" preserveAspectRatio="none"><rect width="15" height="15.4" fill="#f9f9f9"/><g filter="url(#avb)"><path d="M0.4 15.4C0.8 13 3.4 12.4 5.6 11.9L9.4 11.9C11.6 12.4 14.2 13 14.6 15.4Z" fill="#1d2238"/><path d="M5.6 11.9L9.4 11.9L7.5 15.4Z" fill="#ffffff"/><path d="M6.9 12.8L8.1 12.8L8.4 15.4L6.6 15.4Z" fill="#3a62b8"/><rect x="6.1" y="9.8" width="2.8" height="2.8" fill="#e3ab8a"/><path d="M3.9 6.6C3.5 2.6 5.2 1 7.5 1S11.5 2.6 11.1 6.6Z" fill="#3a3230"/><ellipse cx="7.5" cy="6.9" rx="3.35" ry="4.3" fill="#f0c3a3"/><ellipse cx="7.5" cy="5.6" rx="2" ry="1.2" fill="#fbe3d4" opacity=".7"/><path d="M4.3 5.2C4.6 3 6 2.2 7.5 2.2S10.4 3 10.7 5.2C9.8 4 8.8 3.6 7.5 3.6S5.2 4 4.3 5.2Z" fill="#3a3230"/><rect x="5.5" y="6" width="1.3" height="0.9" fill="#4a332b" opacity=".7"/><rect x="8.2" y="6" width="1.3" height="0.9" fill="#4a332b" opacity=".7"/><rect x="6" y="8.7" width="3" height="1.4" rx=".5" fill="#c9656a" opacity=".85"/><rect x="6.4" y="8.9" width="2.2" height="0.8" fill="#fff"/></g></svg>
<svg class="av" style="left:380.2px;top:424.5px" width="15.6" height="15.6" viewBox="0 0 15 15.4" preserveAspectRatio="none"><rect width="15" height="15.4" fill="#f9f9f9"/><g filter="url(#avb)"><path d="M0.4 15.4C0.8 13 3.4 12.4 5.6 11.9L9.4 11.9C11.6 12.4 14.2 13 14.6 15.4Z" fill="#a9a9ab"/><path d="M5.6 11.9L9.4 11.9L7.5 15.4Z" fill="#ffffff"/><path d="M6.9 12.8L8.1 12.8L8.4 15.4L6.6 15.4Z" fill="#b23a48"/><rect x="6.1" y="9.8" width="2.8" height="2.8" fill="#e3ab8a"/><path d="M3.9 6.6C3.5 2.6 5.2 1 7.5 1S11.5 2.6 11.1 6.6Z" fill="#37302e"/><ellipse cx="7.5" cy="6.9" rx="3.35" ry="4.3" fill="#f0c3a3"/><ellipse cx="7.5" cy="5.6" rx="2" ry="1.2" fill="#fbe3d4" opacity=".7"/><path d="M4.3 5.2C4.6 3 6 2.2 7.5 2.2S10.4 3 10.7 5.2C9.8 4 8.8 3.6 7.5 3.6S5.2 4 4.3 5.2Z" fill="#37302e"/><rect x="5.5" y="6" width="1.3" height="0.9" fill="#4a332b" opacity=".7"/><rect x="8.2" y="6" width="1.3" height="0.9" fill="#4a332b" opacity=".7"/><rect x="6" y="8.7" width="3" height="1.4" rx=".5" fill="#c9656a" opacity=".85"/><rect x="6.4" y="8.9" width="2.2" height="0.8" fill="#fff"/></g></svg>
<svg class="av" style="left:396.4px;top:424.5px" width="15.6" height="15.6" viewBox="0 0 15 15.4" preserveAspectRatio="none"><rect width="15" height="15.4" fill="#f9f9f9"/><g filter="url(#avb)"><path d="M0.4 15.4C0.8 13 3.4 12.4 5.6 11.9L9.4 11.9C11.6 12.4 14.2 13 14.6 15.4Z" fill="#cfe2f6"/><path d="M5.6 11.9L9.4 11.9L7.5 15.4Z" fill="#cfe2f6"/><path d="M6.9 12.8L8.1 12.8L8.4 15.4L6.6 15.4Z" fill="#2b3d6b"/><rect x="6.1" y="9.8" width="2.8" height="2.8" fill="#e3ab8a"/><path d="M3.9 6.6C3.5 2.6 5.2 1 7.5 1S11.5 2.6 11.1 6.6Z" fill="#2c2624"/><ellipse cx="7.5" cy="6.9" rx="3.35" ry="4.3" fill="#f0c3a3"/><ellipse cx="7.5" cy="5.6" rx="2" ry="1.2" fill="#fbe3d4" opacity=".7"/><path d="M4.3 5.2C4.6 3 6 2.2 7.5 2.2S10.4 3 10.7 5.2C9.8 4 8.8 3.6 7.5 3.6S5.2 4 4.3 5.2Z" fill="#2c2624"/><rect x="5.5" y="6" width="1.3" height="0.9" fill="#4a332b" opacity=".7"/><rect x="8.2" y="6" width="1.3" height="0.9" fill="#4a332b" opacity=".7"/><rect x="6" y="8.7" width="3" height="1.4" rx=".5" fill="#c9656a" opacity=".85"/><rect x="6.4" y="8.9" width="2.2" height="0.8" fill="#fff"/></g></svg>
<span class="t" style="font-size:14.5px;color:#2a2d6b;-webkit-text-stroke:0.6px #2a2d6b;left:380px;top:304px;transform:scaleX(0.91)">Разговаривают</span>
<span class="t" style="font-size:14px;color:#ffa25c;left:479.784px;top:304px;transform:scaleX(0.967)">315</span>
<span class="t" style="font-size:11px;color:#222;left:419.343px;top:331px;transform:scaleX(1.042)">Техподдержка</span>
<span class="t" style="font-size:11px;color:#bfbfbf;left:499.031px;top:331px;transform:scaleX(1.064)">5161</span>
<span class="t" style="font-size:11px;color:#bfbfbf;left:419.002px;top:348px;transform:scaleX(1.07)">Call-центр</span>
<span class="t" style="font-size:11.5px;color:#2b5bd3;right:17.934px;top:331px;transform-origin:100% 0;transform:scaleX(1.04)">139</span>
<span class="t" style="font-size:11px;color:#222;left:418.66px;top:371px;transform:scaleX(1.042)">Менеджеры</span>
<span class="t" style="font-size:11px;color:#bfbfbf;left:485.457px;top:371px;transform:scaleX(1.058)">3030</span>
<span class="t" style="font-size:11px;color:#bfbfbf;left:418.657px;top:388px;transform:scaleX(1.045)">Москва</span>
<span class="t" style="font-size:11.5px;color:#2b5bd3;right:18.15px;top:371px;transform-origin:100% 0;transform:scaleX(1.04)">14</span>
<span class="t" style="font-size:11px;color:#222;left:418.664px;top:411px;transform:scaleX(1.05)">Поддежрка торгов</span>
<span class="t" style="font-size:11px;color:#bfbfbf;left:519.936px;top:411px;transform:scaleX(1.046)">4574</span>
<span class="t" style="font-size:11px;color:#bfbfbf;left:418.956px;top:428px;transform:scaleX(1.016)">Федеральная клиентская служба</span>
<span class="t" style="font-size:11.5px;color:#2b5bd3;right:17.898px;top:411px;transform-origin:100% 0;transform:scaleX(1.04)">162</span>
</section>
</div>
</body>
</html>
